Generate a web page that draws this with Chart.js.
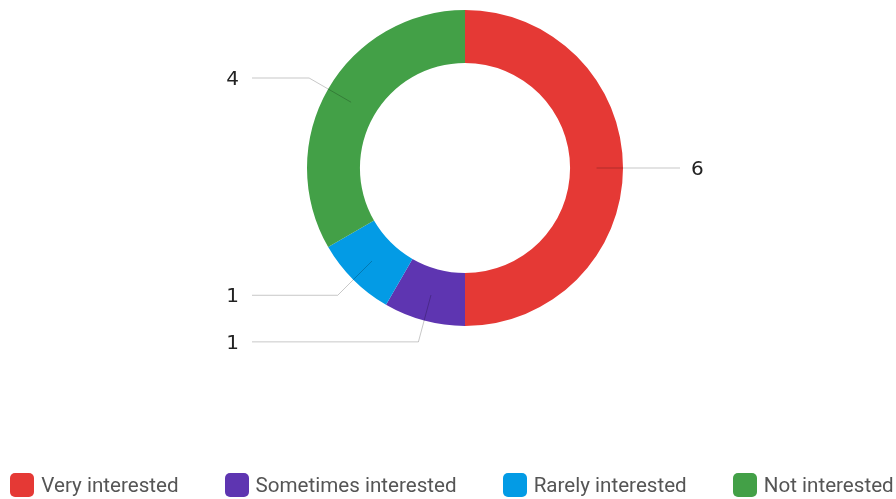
<!DOCTYPE html>
<html>
<head>
<meta charset="utf-8">
<script src="https://cdn.jsdelivr.net/npm/chart.js@4/dist/chart.umd.min.js"></script>
<style>
  html, body { margin: 0; padding: 0; background: #fff; }
  #wrap { position: relative; width: 896px; height: 499px; }
  #legend {
    position: absolute; left: 8px; right: 0; top: 473px;
    display: flex; justify-content: center; gap: 46px;
    font: 20.6px Roboto, sans-serif; color: #555;
  }
  #legend .item { display: flex; align-items: center; white-space: nowrap; }
  #legend .box { width: 24px; height: 24px; border-radius: 5px; margin-right: 7px; }
</style>
</head>
<body>
<div id="wrap">
  <canvas id="chart" width="896" height="499"></canvas>
  <div id="legend"></div>
</div>
<script>
const categories = ['Very interested', 'Sometimes interested', 'Rarely interested', 'Not interested'];
const counts = [6, 1, 1, 4];
const colors = ['#e53935', '#5e35b1', '#039be5', '#43a047'];

// leader lines + value labels, placed from each arc's own geometry
const leaderLabels = {
  id: 'leaderLabels',
  afterDatasetsDraw(chart) {
    const ctx = chart.ctx;
    const meta = chart.getDatasetMeta(0);
    ctx.save();
    meta.data.forEach((arc, i) => {
      const { x, y, startAngle, endAngle, innerRadius, outerRadius } = arc.getProps(['x', 'y', 'startAngle', 'endAngle', 'innerRadius', 'outerRadius'], true);
      const mid = (startAngle + endAngle) / 2;
      const rMid = (innerRadius + outerRadius) / 2;
      const rOut = outerRadius + 22;
      const sx = x + Math.cos(mid) * rMid, sy = y + Math.sin(mid) * rMid;
      const ex = x + Math.cos(mid) * rOut, ey = y + Math.sin(mid) * rOut;
      const right = Math.cos(mid) >= 0;
      const hx = right ? x + 215 : x - 213;
      ctx.strokeStyle = 'rgba(0,0,0,0.22)';
      ctx.lineWidth = 1;
      ctx.beginPath();
      ctx.moveTo(sx, sy);
      ctx.lineTo(ex, ey);
      ctx.lineTo(hx, ey);
      ctx.stroke();
      ctx.fillStyle = '#222';
      ctx.font = '20px "DejaVu Sans", sans-serif';
      ctx.textBaseline = 'middle';
      ctx.textAlign = right ? 'left' : 'right';
      ctx.fillText(String(counts[i]), right ? hx + 11 : hx - 13, ey + 1.5);
    });
    ctx.restore();
  }
};

new Chart(document.getElementById('chart'), {
  type: 'doughnut',
  data: {
    labels: categories,
    datasets: [{
      data: counts,
      backgroundColor: colors,
      borderWidth: 0
    }]
  },
  options: {
    responsive: false,
    animation: false,
    cutout: '66.5%',
    layout: { padding: { top: 10, bottom: 173, left: 34, right: 0 } },
    plugins: {
      legend: { display: false },
      tooltip: { enabled: false }
    }
  },
  plugins: [leaderLabels]
});

const legendEl = document.getElementById('legend');
categories.forEach((name, i) => {
  const item = document.createElement('div');
  item.className = 'item';
  const box = document.createElement('span');
  box.className = 'box';
  box.style.background = colors[i];
  const txt = document.createElement('span');
  txt.textContent = name;
  item.appendChild(box);
  item.appendChild(txt);
  legendEl.appendChild(item);
});
</script>
</body>
</html>
